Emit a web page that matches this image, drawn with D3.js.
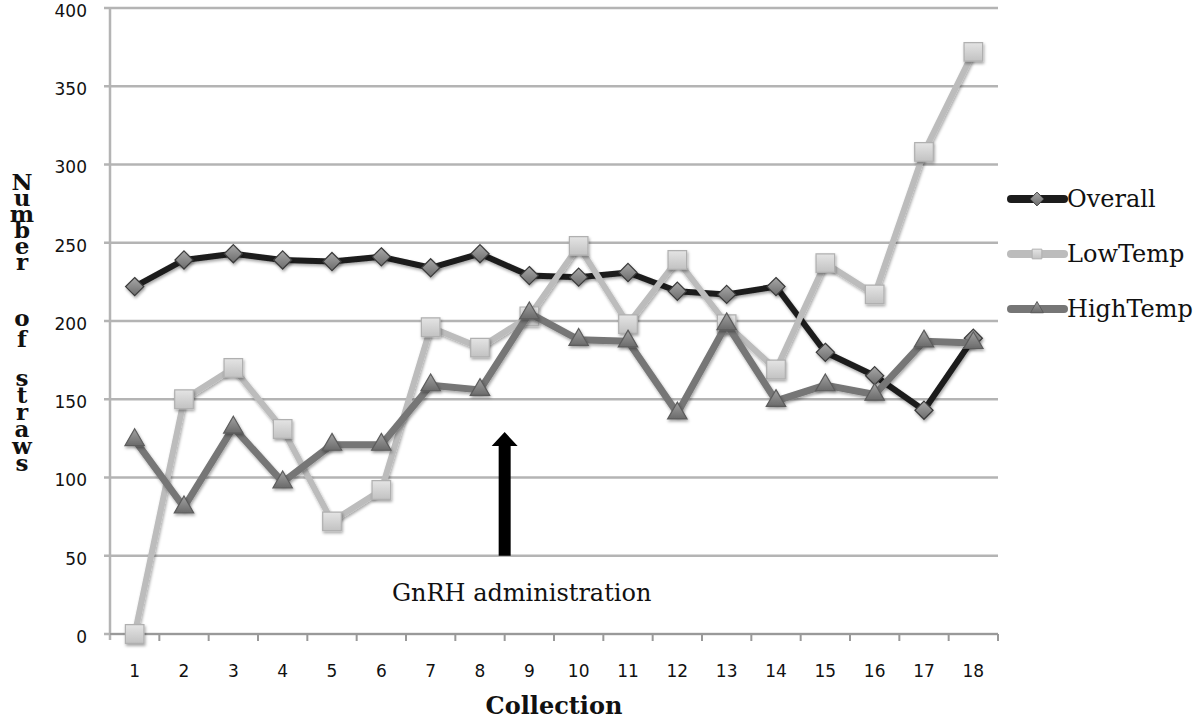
<!DOCTYPE html>
<html>
<head>
<meta charset="utf-8">
<script src="https://cdn.jsdelivr.net/npm/d3@7"></script>
<style>
  body { margin: 0; background: #fff; }
</style>
</head>
<body>
<div id="chart"></div>
<script>
// straws per collection, three series

let collections = d3.range(1, 19)
let overall  = [222, 239, 243, 239, 238, 241, 234, 243, 229, 228, 231, 219, 217, 222, 180, 165, 143, 189]
let lowTemp  = [0, 150, 170, 131, 72, 92, 196, 183, 203, 248, 198, 239, 198, 169, 237, 217, 308, 372]
let highTemp = [124, 81, 132, 97, 121, 121, 159, 156, 205, 188, 187, 141, 198, 149, 159, 153, 187, 186]
let yTicks = [0, 50, 100, 150, 200, 250, 300, 350, 400]
let seriesNames = ["Overall", "LowTemp", "HighTemp"]
let arrowAt = 8.5        // between collection 8 and 9
let arrowRange = [50, 129]

let width = 1203
let height = 720
let plotLeft = 110, plotRight = 998, plotTop = 8, plotBottom = 634

let svg = d3.select("#chart").append("svg")
    .attr("width", width)
    .attr("height", height)

let x = d3.scalePoint()
    .domain(collections)
    .range([plotLeft, plotRight])
    .padding(0.5)

let y = d3.scaleLinear()
    .domain([0, 400])
    .range([plotBottom, plotTop])

// gradients + shadow
let defs = svg.append("defs")
let grad = (id, c1, c2) => {
    let g = defs.append("linearGradient").attr("id", id)
        .attr("x1", 0).attr("y1", 0).attr("x2", 0).attr("y2", 1)
    g.append("stop").attr("offset", "0%").attr("stop-color", c1)
    g.append("stop").attr("offset", "100%").attr("stop-color", c2)
}
grad("gOverall", "#a8a8a8", "#6c6c6c")
grad("gLow", "#e4e4e4", "#c2c2c2")
grad("gHigh", "#a2a2a2", "#6a6a6a")
defs.append("filter").attr("id", "shadow")
    .attr("x", "-50%").attr("y", "-50%").attr("width", "200%").attr("height", "200%")
    .append("feDropShadow")
    .attr("dx", 1).attr("dy", 2).attr("stdDeviation", 1.5)
    .attr("flood-color", "#000").attr("flood-opacity", 0.35)

// gridlines
svg.append("g")
    .selectAll("line")
    .data(yTicks)
    .join("line")
    .attr("x1", plotLeft - 6)
    .attr("x2", plotRight)
    .attr("y1", d => y(d))
    .attr("y2", d => y(d))
    .attr("stroke", "#b4b4b4")
    .attr("stroke-width", 2.5)

// y axis line
svg.append("line")
    .attr("x1", plotLeft).attr("x2", plotLeft)
    .attr("y1", y(400)).attr("y2", plotBottom + 6)
    .attr("stroke", "#b4b4b4")
    .attr("stroke-width", 2.5)

// y tick labels
svg.append("g")
    .selectAll("text")
    .data(yTicks)
    .join("text")
    .attr("x", 87)
    .attr("y", d => y(d) + 3)
    .attr("dy", "0.35em")
    .attr("text-anchor", "end")
    .attr("font-family", "DejaVu Sans")
    .attr("font-size", 17)
    .attr("fill", "#111")
    .text(d => d)

// x axis with ticks between categories
let step = x.step()
svg.append("line")
    .attr("x1", plotLeft).attr("x2", plotRight)
    .attr("y1", plotBottom).attr("y2", plotBottom)
    .attr("stroke", "#999")
    .attr("stroke-width", 2)
svg.append("g")
    .selectAll("line")
    .data(collections)
    .join("line")
    .attr("x1", d => x(d) + step / 2)
    .attr("x2", d => x(d) + step / 2)
    .attr("y1", plotBottom)
    .attr("y2", plotBottom + 7)
    .attr("stroke", "#999")
    .attr("stroke-width", 2)
svg.append("g")
    .selectAll("text")
    .data(collections)
    .join("text")
    .attr("x", d => x(d))
    .attr("y", 677)
    .attr("text-anchor", "middle")
    .attr("font-family", "DejaVu Sans")
    .attr("font-size", 17)
    .attr("fill", "#111")
    .text(d => d)

// axis titles
svg.append("text")
    .attr("x", x(9) + step / 2)
    .attr("y", 714)
    .attr("text-anchor", "middle")
    .attr("font-family", "DejaVu Serif")
    .attr("font-weight", "bold")
    .attr("font-size", 24)
    .attr("fill", "#111")
    .text("Collection")

// stacked y title: upright vertical text, one text per word
let yTitle = ["Number", "of", "straws"]
let wordTop = [168, 304, 364]
let wordSpacing = [-11, -6, -10]
svg.append("g")
    .selectAll("text")
    .data(yTitle)
    .join("text")
    .attr("x", 22)
    .attr("y", (d, i) => wordTop[i])
    .style("writing-mode", "vertical-rl")
    .style("text-orientation", "upright")
    .style("letter-spacing", (d, i) => wordSpacing[i] + "px")
    .attr("font-family", "DejaVu Serif")
    .attr("font-weight", "bold")
    .attr("font-size", 23)
    .attr("fill", "#111")
    .text(d => d)

// GnRH arrow
let ax = x(Math.floor(arrowAt)) + step * (arrowAt - Math.floor(arrowAt))
let aBase = y(arrowRange[0]), aTip = y(arrowRange[1])
svg.append("path")
    .attr("d", `M${ax - 6},${aBase}L${ax - 6},${aTip + 14}L${ax - 13},${aTip + 14}L${ax},${aTip}L${ax + 13},${aTip + 14}L${ax + 6},${aTip + 14}L${ax + 6},${aBase}Z`)
    .attr("fill", "#000")

svg.append("text")
    .attr("x", ax + 17)
    .attr("y", 601)
    .attr("text-anchor", "middle")
    .attr("font-family", "DejaVu Serif")
    .attr("font-size", 24)
    .attr("fill", "#111")
    .text("GnRH administration")

// marker shapes
let diamond = d3.symbol().type(d3.symbolDiamond2).size(210)
let square = d3.symbol().type(d3.symbolSquare2).size(440)
let triangle = d3.symbol().type(d3.symbolTriangle2).size(270)

let series = [
    { name: seriesNames[0], values: overall, line: "#1c1c1c", lw: 6, shape: diamond, type: d3.symbolDiamond2, fill: "url(#gOverall)", stroke: "#3a3a3a" },
    { name: seriesNames[1], values: lowTemp, line: "#bcbcbc", lw: 6, shape: square, type: d3.symbolSquare2, fill: "url(#gLow)", stroke: "#b0b0b0" },
    { name: seriesNames[2], values: highTemp, line: "#767676", lw: 7, shape: triangle, type: d3.symbolTriangle2, fill: "url(#gHigh)", stroke: "#5c5c5c" }
]

let line = d3.line()
    .x((d, i) => x(collections[i]))
    .y(d => y(d))

series.forEach(s => {
    let g = svg.append("g")
    g.append("path")
        .datum(s.values)
        .attr("d", line)
        .attr("fill", "none")
        .attr("stroke", s.line)
        .attr("stroke-width", s.lw)
        .attr("stroke-linejoin", "round")
        .attr("filter", "url(#shadow)")
    g.selectAll("path.mk")
        .data(s.values)
        .join("path")
        .attr("class", "mk")
        .attr("transform", (d, i) => `translate(${x(collections[i])},${y(d)})`)
        .attr("d", s.shape)
        .attr("fill", s.fill)
        .attr("stroke", s.stroke)
        .attr("stroke-width", 1.2)
        .attr("filter", "url(#shadow)")
})

// legend
let legend = svg.append("g")
    .selectAll("g")
    .data(series)
    .join("g")
    .attr("transform", (d, i) => `translate(1011, ${199 + i * 55})`)

legend.append("line")
    .attr("x1", 0).attr("x2", 53)
    .attr("stroke", d => d.line)
    .attr("stroke-width", 8)
    .attr("stroke-linecap", "round")
legend.append("path")
    .attr("transform", "translate(26,0)")
    .attr("d", d => d3.symbol().type(d.type).size(120)())
    .attr("fill", d => d.fill)
    .attr("stroke", d => d.stroke)
legend.append("text")
    .attr("x", 56)
    .attr("dy", "0.35em")
    .attr("font-family", "DejaVu Serif")
    .attr("font-size", 24)
    .attr("fill", "#111")
    .text(d => d.name)
</script>
</body>
</html>
